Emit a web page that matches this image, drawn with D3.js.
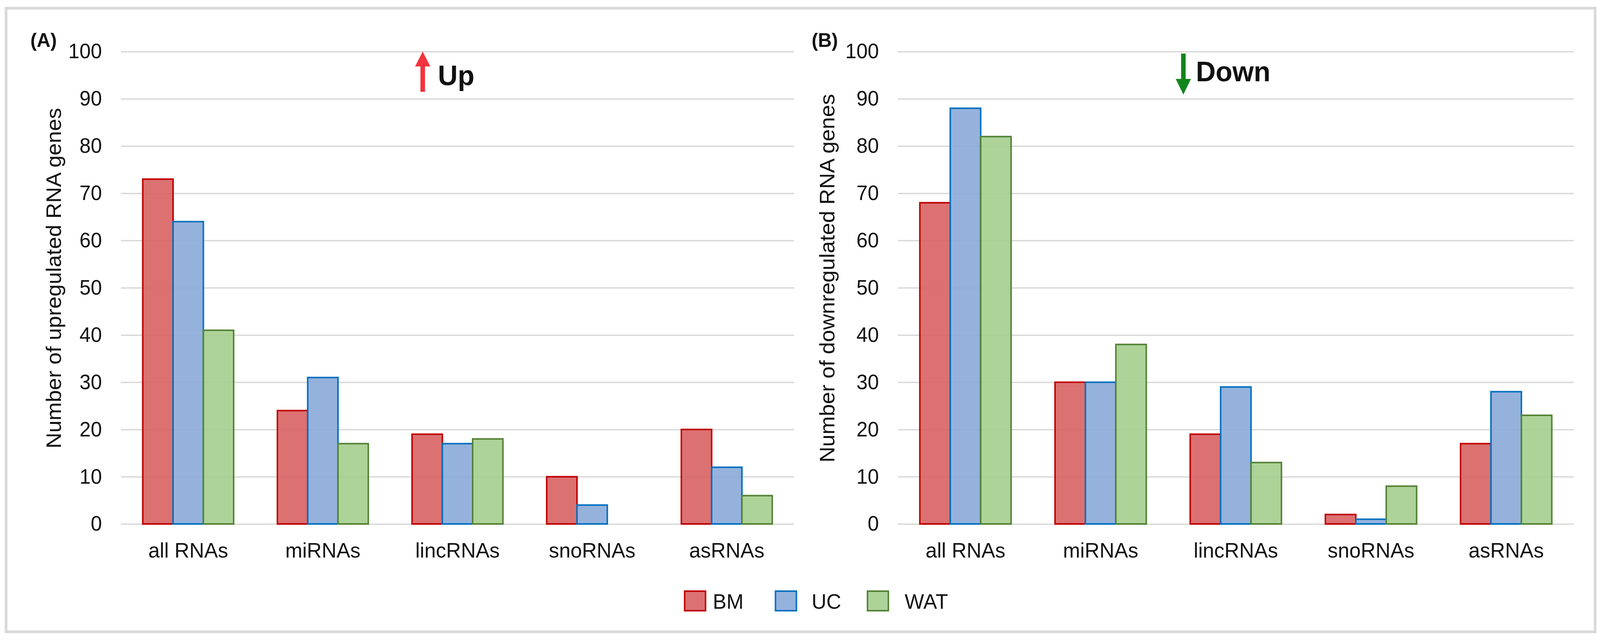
<!DOCTYPE html>
<html>
<head>
<meta charset="utf-8">
<script src="https://cdn.jsdelivr.net/npm/d3@7"></script>
<style>
  html, body { margin: 0; padding: 0; background: #fff; overflow: hidden; }
  svg { display: block; }
  text { font-family: "Liberation Sans", Arial, sans-serif; fill: #111; }
</style>
</head>
<body>
<div id="chart"></div>
<script>
const categories = ["all RNAs", "miRNAs", "lincRNAs", "snoRNAs", "asRNAs"];
const seriesNames = ["BM", "UC", "WAT"];
const yTicks = [0, 10, 20, 30, 40, 50, 60, 70, 80, 90, 100];

// panel A, upregulated
const upBM = [73, 24, 19, 10, 20];
const upUC = [64, 31, 17, 4, 12];
const upWAT = [41, 17, 18, 0, 6];

// panel B, downregulated
const downBM = [68, 30, 19, 2, 17];
const downUC = [88, 30, 29, 1, 28];
const downWAT = [82, 38, 13, 8, 23];

const fills = {BM: "#d96566", UC: "#8cabd9", WAT: "#a7cf90"};
const strokes = {BM: "#c00000", UC: "#0070c0", WAT: "#548235"};

const width = 4209, height = 1638;
// viewBox so the whole figure fits whatever the viewport ends up being
const svg = d3.select("#chart").append("svg")
    .attr("viewBox", `0 0 ${width} ${height}`)
    .attr("preserveAspectRatio", "none")
    .style("width", "100vw")
    .style("height", "100vh");

// outer frame
svg.append("rect")
    .attr("x", 16).attr("y", 21)
    .attr("width", 4180).attr("height", 1596)
    .attr("fill", "none")
    .attr("stroke", "#d9d9d9")
    .attr("stroke-width", 7);

const y = d3.scaleLinear().domain([0, 100]).range([1341, 132]);

function drawPanel(opts) {
    const g = svg.append("g");
    const x0 = d3.scaleBand().domain(categories)
        .range([opts.left, opts.right])
        .paddingInner(0.325).paddingOuter(0.1625);
    const x1 = d3.scaleBand().domain(seriesNames).range([0, x0.bandwidth()]);

    // y axis + gridlines
    const yAxis = g.append("g")
        .attr("transform", `translate(${opts.left},0)`)
        .call(d3.axisLeft(y).tickValues(yTicks)
            .tickSize(-(opts.right - opts.left)).tickPadding(50));
    yAxis.select(".domain").remove();
    yAxis.selectAll(".tick line").attr("stroke", "#d9d9d9").attr("stroke-width", 3.5);
    yAxis.selectAll(".tick text").attr("font-size", 53).attr("fill", "#111");

    // x axis labels
    const xAxis = g.append("g")
        .attr("transform", `translate(0,${y(0)})`)
        .call(d3.axisBottom(x0).tickSize(0).tickPadding(48));
    xAxis.select(".domain").remove();
    xAxis.selectAll(".tick text").attr("font-size", 54).attr("fill", "#111");

    const rows = categories.map((c, i) => ({
        cat: c,
        vals: seriesNames.map(s => ({key: s, value: opts.values[s][i]}))
    }));

    g.append("g").selectAll("g")
        .data(rows)
        .join("g")
        .attr("transform", d => `translate(${x0(d.cat)},0)`)
        .selectAll("rect")
        .data(d => d.vals.filter(v => v.value > 0))
        .join("rect")
        .attr("x", d => x1(d.key))
        .attr("y", d => y(d.value))
        .attr("width", x1.bandwidth())
        .attr("height", d => y(0) - y(d.value))
        .attr("fill", d => fills[d.key])
        .attr("fill-opacity", 0.92)
        .attr("stroke", d => strokes[d.key])
        .attr("stroke-width", 4);

    // y title
    g.append("text")
        .attr("transform", `translate(${opts.titleX},712) rotate(-90)`)
        .attr("text-anchor", "middle")
        .attr("font-size", 56)
        .text(opts.title);

    // panel letter
    g.append("text")
        .attr("x", opts.letterX).attr("y", 120)
        .attr("font-size", 50).attr("font-weight", "bold")
        .text(opts.letter);

    // arrow + word
    const ax = opts.arrowX;
    const arrowPath = opts.up
        ? `M${ax},132 L${ax + 20},170 L${ax + 6},170 L${ax + 6},235 L${ax - 6},235 L${ax - 6},170 L${ax - 20},170 Z`
        : `M${ax},242 L${ax + 20},202 L${ax + 6},202 L${ax + 6},137 L${ax - 6},137 L${ax - 6},202 L${ax - 20},202 Z`;
    g.append("path").attr("d", arrowPath).attr("fill", opts.arrowColor);
    g.append("text")
        .attr("x", opts.wordX).attr("y", opts.wordY)
        .attr("font-size", 72).attr("font-weight", "bold")
        .text(opts.word);
}

drawPanel({
    left: 318, right: 2089,
    values: {BM: upBM, UC: upUC, WAT: upWAT},
    title: "Number of upregulated RNA genes", titleX: 160,
    letter: "(A)", letterX: 80,
    up: true, arrowX: 1112, arrowColor: "#f2333c",
    word: "Up", wordX: 1152, wordY: 218
});

drawPanel({
    left: 2362, right: 4140,
    values: {BM: downBM, UC: downUC, WAT: downWAT},
    title: "Number of downregulated RNA genes", titleX: 2195,
    letter: "(B)", letterX: 2135,
    up: false, arrowX: 3113, arrowColor: "#12851c",
    word: "Down", wordX: 3146, wordY: 208
});

// legend
const legendX = [1801, 2040, 2282];
const legendTextX = [1875, 2135, 2380];
const legend = svg.append("g");
seriesNames.forEach((s, i) => {
    legend.append("rect")
        .attr("x", legendX[i]).attr("y", 1513)
        .attr("width", 55).attr("height", 50)
        .attr("fill", fills[s]).attr("fill-opacity", 0.92)
        .attr("stroke", strokes[s]).attr("stroke-width", 4);
    legend.append("text")
        .attr("x", legendTextX[i]).attr("y", 1558)
        .attr("font-size", 54)
        .text(s);
});
</script>
</body>
</html>
